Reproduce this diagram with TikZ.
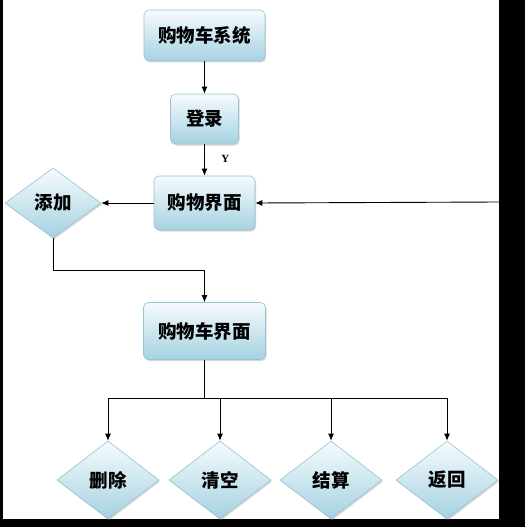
\documentclass[tikz,border=0pt]{standalone}
\usepackage{fontspec}
\setmainfont{Liberation Serif}
\newfontfamily\cjk{Noto Sans CJK SC}
\usetikzlibrary{positioning,shapes.geometric,shadows,arrows.meta}

\definecolor{frame}{RGB}{150,196,212}
\definecolor{topfill}{RGB}{246,251,253}
\definecolor{botfill}{RGB}{165,210,225}

\begin{document}
\begin{tikzpicture}[node distance=1cm,on grid,>={Latex[length=7pt,width=6pt]},
			line width=0.9pt,
			box/.style={rectangle, rounded corners=5pt, draw=frame, line width=0.6pt, top color=topfill, bottom color=botfill, font=\cjk\bfseries\fontsize{18.5}{20}\selectfont, drop shadow={shadow xshift=1.2pt, shadow yshift=-1.5pt, opacity=0.3}},
			choice/.style={diamond, draw=frame, line width=0.6pt, top color=topfill, bottom color=botfill, inner sep=0pt, minimum width=102pt, minimum height=78pt, font=\cjk\bfseries\fontsize{18.5}{20}\selectfont, drop shadow={shadow xshift=1.2pt, shadow yshift=-1.5pt, opacity=0.3}}
		]
		\useasboundingbox (0,0) rectangle (525pt,-527pt);
		\fill[white] (0,0) rectangle (525pt,-527pt);
		\fill[black] (0,0) rectangle (3pt,-527pt);
		\fill[black] (499pt,0) rectangle (525pt,-527pt);
		\fill[black] (0,-519pt) rectangle (525pt,-527pt);
		
		\node[box, minimum width=121pt, minimum height=51pt] (sys) at (204.5pt,-35.5pt) {购物车系统};
		\node[box, minimum width=68pt, minimum height=50pt] (login) [below=83.5pt of sys] {登录};
		\node[box, minimum width=101pt, minimum height=54pt] (shop) [below=84pt of login] {购物界面};
		\node[choice, minimum width=96pt, minimum height=70pt] (add) [left=151.5pt of shop] {添加};
		\node[box, minimum width=122pt, minimum height=57pt] (cart) [below=128pt of shop] {购物车界面};
		
		\node[choice] (del) [below=149pt of cart, xshift=-96.5pt] {删除};
		\node[choice] (clear) [right=112pt of del] {清空};
		\node[choice] (pay) [right=111pt of clear] {结算};
		\node[choice] (back) [right=116pt of pay] {返回};
		
		\coordinate (entry) at (499pt,-202pt);
		
		\draw[->] (sys.south) -- (login.north);
		\draw[->] (login.south) -- (shop.north) node[pos=0.45, right=13pt, font=\bfseries\fontsize{11}{12}\selectfont] {Y};
		\draw[->] (shop.west) -- (add.east);
		\draw[->] (entry) -- (shop.east);
		\draw[->] (add.south) |- ++(0,-32pt) -| (cart.north);
		
		\draw[->] (cart.south) -- ++(0,-39pt) -| (del.north);
		\draw[->] (cart.south) -- ++(0,-39pt) -| (clear.north);
		\draw[->] (cart.south) -- ++(0,-39pt) -| (pay.north);
		\draw[->] (cart.south) -- ++(0,-39pt) -| (back.north);
	\end{tikzpicture}
\end{document}
